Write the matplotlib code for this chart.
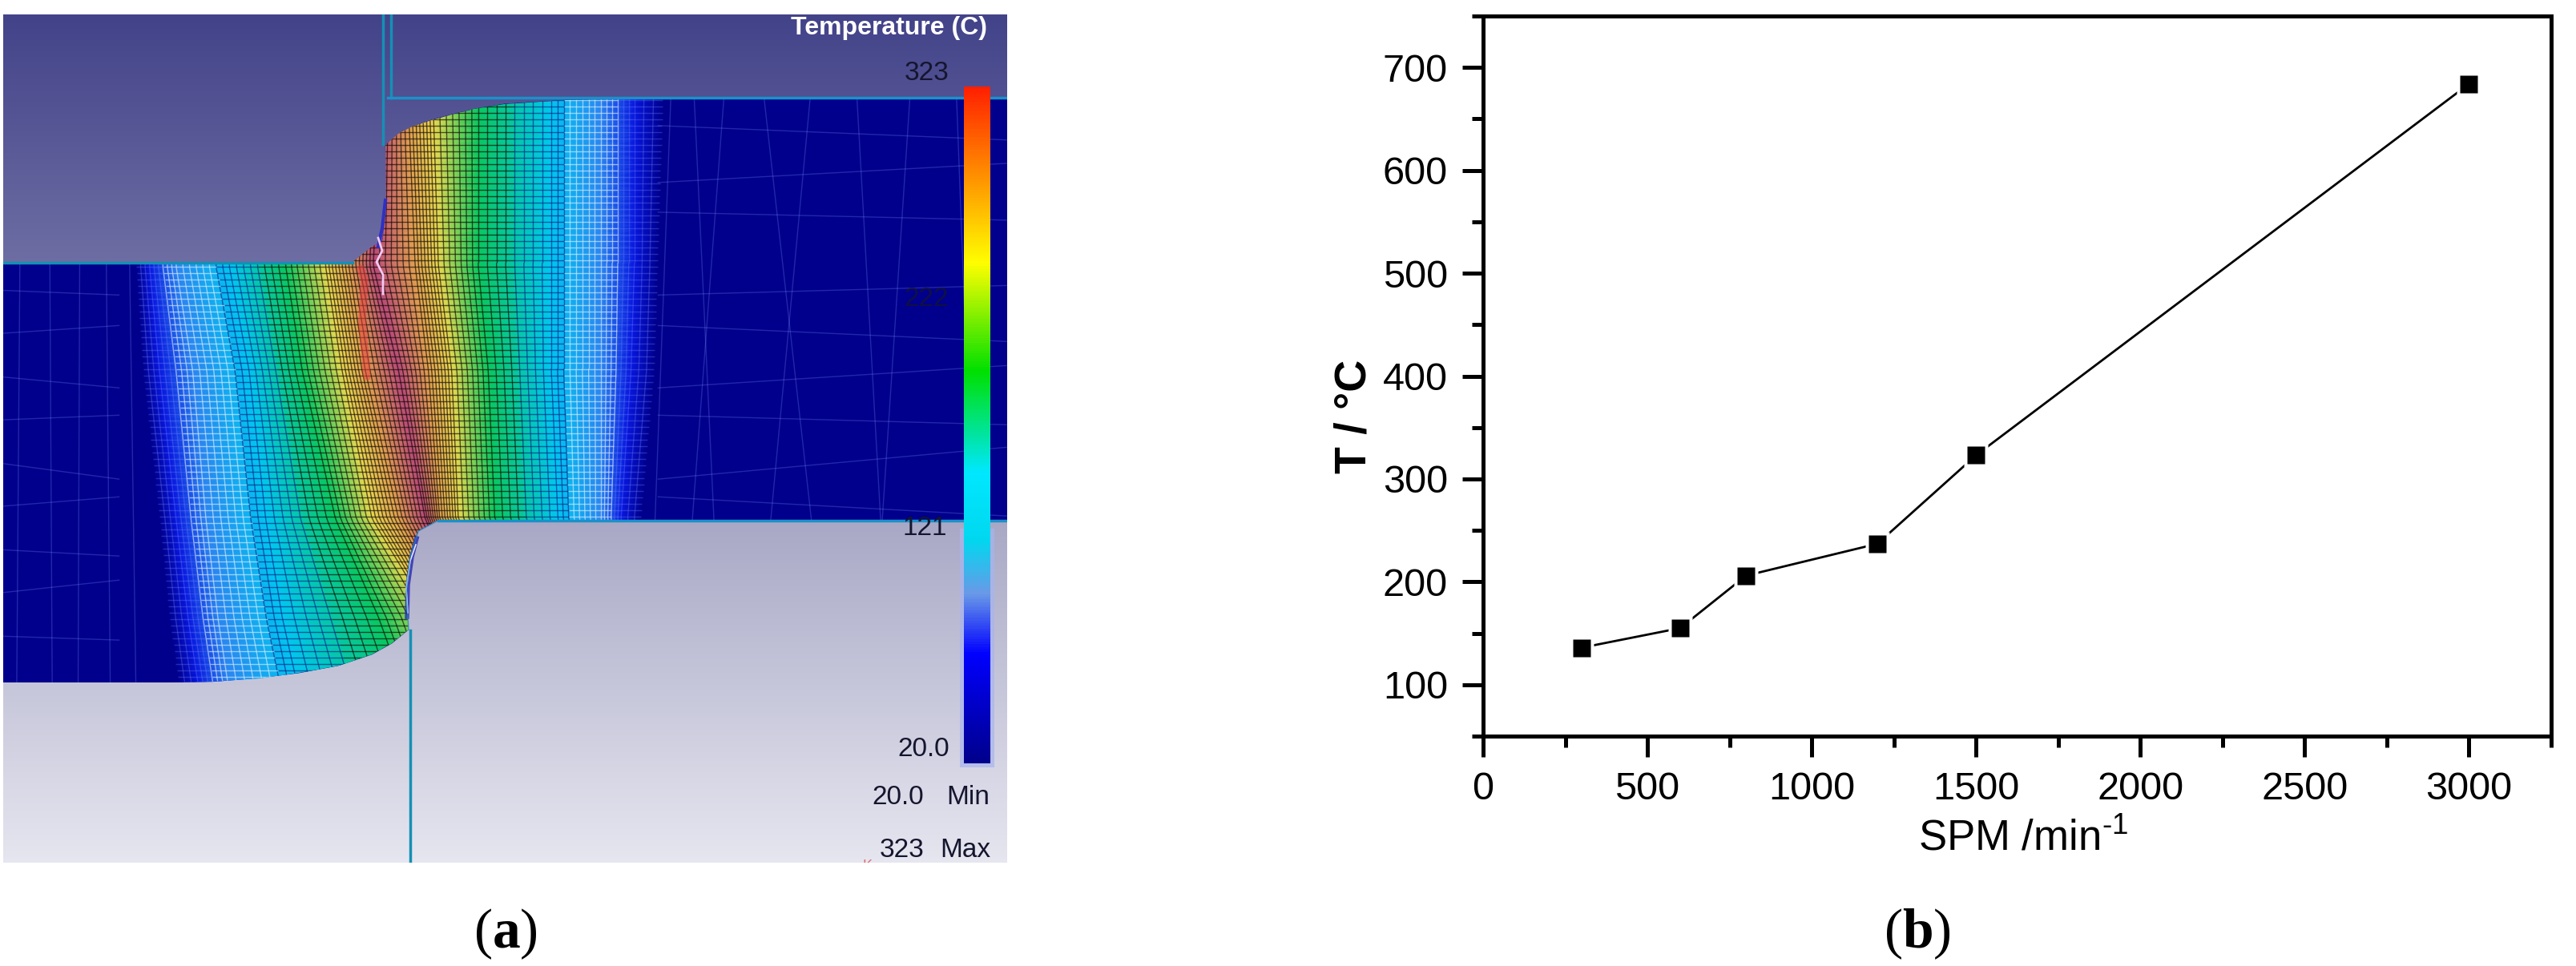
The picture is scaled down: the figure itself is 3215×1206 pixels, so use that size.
# -*- coding: utf-8 -*-
import numpy as np
import matplotlib
matplotlib.use('Agg')
import matplotlib.pyplot as plt
from matplotlib.collections import LineCollection
from matplotlib.colors import LinearSegmentedColormap, to_rgb
from matplotlib.patches import Polygon, Rectangle
from matplotlib.ticker import MultipleLocator

plt.rcParams['font.family'] = ['Liberation Sans', 'DejaVu Sans']
plt.rcParams['mathtext.fontset'] = 'custom'
plt.rcParams['mathtext.rm'] = 'Liberation Sans'
plt.rcParams['mathtext.bf'] = 'Liberation Serif:bold'

# chart (b)
spm = [300, 600, 800, 1200, 1500, 3000]
temp = [136, 155, 206, 237, 323, 684]
x_ticks = [0, 500, 1000, 1500, 2000, 2500, 3000]
y_ticks = [100, 200, 300, 400, 500, 600, 700]

# chart (a) colour scale, fraction of the 20..323 range
bar_stops = [0.0, 0.16, 0.25, 0.33, 0.43, 0.58, 0.74, 0.87, 1.0]
bar_colors = ['#00008c', '#0000ff', '#6a9ae8', '#00d8f0', '#00e8ff', '#00e000', '#ffff00', '#ff9000', '#ff2000']
bar_labels = ['323', '222', '121', '20.0']

# isotherm positions across the strip (read in the zoomed crop units)
iso_levels = [0, .16, .25, .40, .58, .74, .87, 1, .87, .74, .58, .40, .25, .16, 0]
iso_colors = ['#00008c', '#0818e0', '#2c88f0', '#00c8f0', '#08c860', '#e8d850', '#e0a050', '#b8487a',
              '#e0a050', '#e8d850', '#08c860', '#00c8f0', '#2c88f0', '#0818e0', '#00008c']
iso_rows = [100, 430, 600, 840, 1000, 1120]
iso_x = [[205, 228, 268, 350, 420, 490, 530, 575, 612, 650, 720, 830, 905, 955, 1000],
         [205, 225, 265, 345, 430, 490, 525, 562, 625, 660, 720, 830, 905, 955, 990],
         [215, 240, 290, 375, 455, 515, 550, 600, 645, 680, 735, 830, 905, 950, 985],
         [240, 265, 310, 400, 505, 560, 600, 640, 662, 690, 745, 840, 905, 935, 965],
         [255, 283, 328, 425, 570, 650, 680, 710, 740, 770, 810, 870, 925, 950, 980],
         [270, 300, 345, 450, 610, 690, 720, 750, 780, 810, 840, 890, 935, 960, 990]]
sub_lines = [3, 6, 8, 8, 7, 7, 7, 7, 7, 7, 8, 8, 6, 3]

strip_x = [0, 530, 560, 575, 582, 580, 600, 620, 650, 680, 720, 760, 850, 1000, 1517, 1517, 660, 630, 618, 612, 615,
           590, 560, 510, 450, 390, 320, 250, 0]
strip_y = [425, 425, 400, 390, 340, 235, 217, 205, 194, 185, 175, 168, 162, 160, 160, 842, 842, 860, 900, 960, 1020,
           1042, 1060, 1078, 1090, 1098, 1104, 1105, 1105]

coarse_left = [30, 75, 120, 160, 195]
coarse_left_tilt = [-4, 3, -2, 5, 8]
coarse_right = [1010, 1045, 1090, 1150, 1220, 1290, 1370, 1440]
coarse_right_tilt = [-20, 25, -40, 60, -50, 30, -35, 20]
coarse_rows = [470, 540, 610, 680, 750, 820, 890, 960, 1030, 215, 280, 350]
coarse_rows_tilt = [6, -10, 14, -6, 20, -12, 8, -16, 5, -9, 12, -5]

bg_y = [18, 328, 650, 1077]
bg_colors = ['#43438a', '#6e6ea4', '#a8a8c6', '#e6e6f0']

sx = 0.829
sy = 0.771

fig = plt.figure(figsize=(32.15, 12.06), dpi=100)

###############################################################################
# (a) simulated temperature field, axes in picture pixels
ax_a = fig.add_axes([4/3215, (1206-1077)/1206, (1257-4)/3215, (1077-18)/1206])
ax_a.set_xlim(4, 1257)
ax_a.set_ylim(1077, 18)
ax_a.axis('off')

yy = np.linspace(18, 1077, 300)
rgb = np.array([np.interp(yy, bg_y, [to_rgb(c)[i] for c in bg_colors]) for i in range(3)]).T
ax_a.imshow(rgb[:, None, :], extent=(4, 1257, 1077, 18), aspect='auto', zorder=0)

strip = Polygon(np.c_[np.array(strip_x)*sx, np.array(strip_y)*sy], closed=True, fc='#00008c', ec='none', zorder=1)
ax_a.add_patch(strip)

field_cmap = LinearSegmentedColormap.from_list('field', list(zip(np.linspace(0, 1, 15), iso_colors)))
iso_x_arr = np.array(iso_x)*sx
rows_px = np.array(iso_rows)*sy
yfine = np.linspace(rows_px[0], rows_px[-1], 120)
col_x = np.array([np.interp(yfine, rows_px, iso_x_arr[:, j]) for j in range(15)]).T
col_x = np.c_[np.full(len(yfine), -50.0), col_x, np.full(len(yfine), 1400.0)]
col_c = np.r_[0, np.linspace(0, 1, 15), 1]
Y = np.repeat(yfine[:, None], 17, axis=1)
C = np.repeat(col_c[None, :], len(yfine), axis=0)
mesh = ax_a.pcolormesh(col_x, Y, C, cmap=field_cmap, vmin=0, vmax=1, shading='gouraud', zorder=2)
mesh.set_clip_path(strip)

# fine element mesh through the heated band
lines_x = []
lines_f = []
for j, n in enumerate(sub_lines):
    for k in range(n):
        t = k/n
        lines_x.append((1-t)*col_x[:, j+1] + t*col_x[:, j+2])
        lines_f.append((1-t)*iso_levels[j] + t*iso_levels[j+1])
lines_x.append(col_x[:, 15])
lines_f.append(0)
lines_x = np.array(lines_x)


def mesh_color(f):
    if f < 0.2:
        return (0.5, 0.55, 1, 0.3)
    if f < 0.36:
        return (0.9, 0.95, 1, 0.6)
    if f < 0.5:
        return (0, 0.1, 0.5, 0.6)
    return (0.05, 0.02, 0, 0.65)


segs = []
cols = []
for i in range(1, lines_x.shape[0]-1):
    f = lines_f[i]
    for m in range(0, len(yfine)-1):
        segs.append([(lines_x[i, m], yfine[m]), (lines_x[i, m+1], yfine[m+1])])
        cols.append(mesh_color(f))
for y0 in np.arange(rows_px[0], rows_px[-1], 8):
    m = np.searchsorted(yfine, y0)
    m = min(m, len(yfine)-1)
    for i in range(lines_x.shape[0]-1):
        segs.append([(lines_x[i, m], y0), (lines_x[i+1, m], y0)])
        cols.append(mesh_color(0.5*(lines_f[i]+lines_f[i+1])))
lc = LineCollection(segs, colors=cols, linewidths=1.0, zorder=3)
ax_a.add_collection(lc)
lc.set_clip_path(strip)

# coarse mesh in the cold zones
segs = []
for v, d in zip(coarse_left, coarse_left_tilt):
    segs.append([(v*sx, 320), (v*sx+d, 860)])
for v, d in zip(coarse_right, coarse_right_tilt):
    segs.append([(v*sx, 120), (v*sx+d, 655)])
for r, d in zip(coarse_rows, coarse_rows_tilt):
    segs.append([(0, r*sy), (180*sx, r*sy+d)])
    segs.append([(990*sx, r*sy+d), (1517*sx, r*sy-d)])
lc2 = LineCollection(segs, colors=[(0.5, 0.55, 1, 0.28)], linewidths=1.0, zorder=3)
ax_a.add_collection(lc2)
lc2.set_clip_path(strip)

# hot spot, crack and the blue rim near the die corners
ax_a.plot([450, 455, 452, 458], [335, 350, 400, 470], color='#e84040', lw=7, alpha=0.5, zorder=4, solid_capstyle='round')
ax_a.plot([481, 477, 472], [250, 285, 308], color='#3030c0', lw=3, zorder=4)
ax_a.plot([472, 477, 470, 478, 478], [297, 313, 327, 343, 367], color='#f4c8f4', lw=2, zorder=5)
ax_a.plot([520, 514, 509, 508], [672, 695, 730, 770], color='#2828b0', lw=4, alpha=0.8, zorder=4)
ax_a.plot([519, 512, 507, 509], [680, 700, 735, 765], color='#e8e8ff', lw=1.2, zorder=5)

# die outlines
line_c = '#1590b4'
ax_a.plot([478, 478], [18, 180], color=line_c, lw=2.5, zorder=6)
ax_a.plot([488, 488], [18, 122], color=line_c, lw=2.5, zorder=6)
ax_a.plot([484, 1257], [122, 122], color='#1c90c8', lw=2.5, zorder=6)
ax_a.plot([4, 440], [328, 328], color=line_c, lw=2.5, zorder=6)
ax_a.plot([547, 1257], [650, 650], color='#1c90c8', lw=2.5, zorder=6)
ax_a.plot([547, 522, 512, 507, 510], [650, 663, 694, 740, 786], color='#1c90c8', lw=1.2, alpha=0.6, zorder=6)
ax_a.plot([512, 512], [787, 1077], color=line_c, lw=2.5, zorder=6)

# colour bar
ax_a.add_patch(Rectangle((1198, 660), 43, 298, fc='#a8b4ee', ec='none', alpha=0.7, zorder=6))
bar_cmap = LinearSegmentedColormap.from_list('bar', list(zip(bar_stops, bar_colors)))
bar_vals = np.linspace(1, 0, 256)[:, None]
ax_a.imshow(bar_vals, cmap=bar_cmap, vmin=0, vmax=1, extent=(1203, 1236, 953, 108), aspect='auto', zorder=7)
ax_a.set_xlim(4, 1257)
ax_a.set_ylim(1077, 18)

txt = dict(fontsize=24, color='#15152e', va='center', zorder=8)
ax_a.text(1232, 35, 'Temperature (C)', fontsize=23, color='white', fontweight='bold', ha='right', va='center', zorder=8)
ax_a.text(1184, 91, bar_labels[0], ha='right', **txt)
ax_a.text(1184, 374, bar_labels[1], ha='right', alpha=0.75, **txt)
ax_a.text(1182, 659, bar_labels[2], ha='right', **txt)
ax_a.text(1185, 935, bar_labels[3], ha='right', **txt)
ax_a.text(1153, 995, '20.0', ha='right', **txt)
ax_a.text(1235, 995, 'Min', ha='right', **txt)
ax_a.text(1153, 1062, '323', ha='right', **txt)
ax_a.text(1236, 1062, 'Max', ha='right', **txt)
ax_a.text(1082, 1081, 'K', fontsize=13, color='#e07070', ha='center', va='center', zorder=8, clip_on=True)

###############################################################################
# (b) temperature against strokes per minute
ax_b = fig.add_axes([1851/3215, (1206-919)/1206, (3184-1851)/3215, (919-20)/1206])
ax_b.plot(spm, temp, color='black', lw=2.0, zorder=2)
ax_b.plot(spm, temp, ls='none', marker='s', ms=21, mfc='white', mec='none', zorder=3)
ax_b.plot(spm, temp, ls='none', marker='s', ms=16, mfc='black', mec='none', zorder=4)
ax_b.set_xlim(0, 3250)
ax_b.set_ylim(50, 750)
ax_b.set_xticks(x_ticks)
ax_b.set_yticks(y_ticks)
ax_b.xaxis.set_minor_locator(MultipleLocator(250))
ax_b.yaxis.set_minor_locator(MultipleLocator(50))
ax_b.tick_params(which='major', length=18.7, width=3.6, labelsize=35, pad=13)
ax_b.tick_params(which='minor', length=10, width=3.6)
for s in ax_b.spines.values():
    s.set_linewidth(3.6)
fig.text(2525/3215, 1-1047/1206, r'SPM /min$^{\text{-}1}$', fontsize=38, ha='center', va='center')
fig.text(1691/3215, 1-520/1206, 'T / °C', fontsize=40, fontweight='bold', rotation=90, ha='center', va='center')

# panel captions
cap = dict(fontsize=50, family='Liberation Serif', ha='center', va='center')
fig.text(631/3215, 1-1166/1206, r'($\mathbf{a}$)', **cap)
fig.text(2393/3215, 1-1166/1206, r'($\mathbf{b}$)', **cap)

fig.savefig('out.png', dpi=100)
